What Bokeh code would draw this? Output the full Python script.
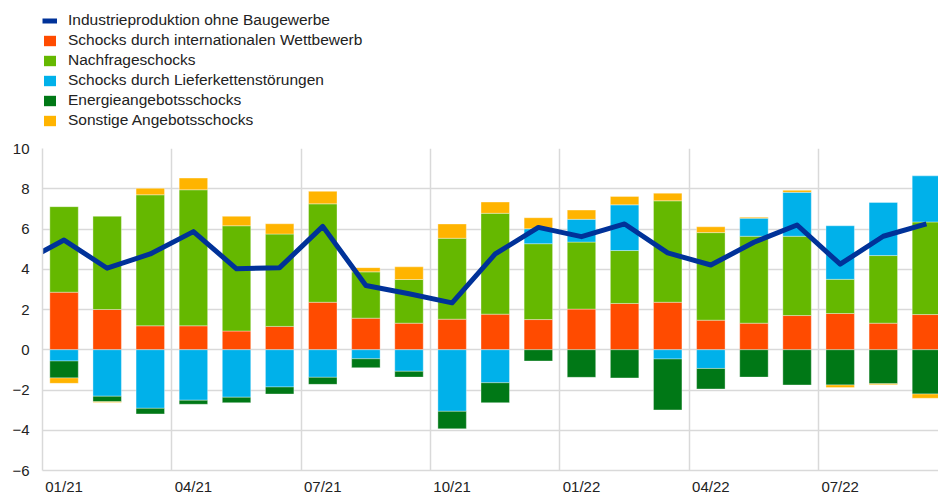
import numpy as np
from bokeh.plotting import figure
from bokeh.layouts import column
from bokeh.models import FixedTicker, Legend, LegendItem, ColumnDataSource
from bokeh.embed import file_html
from bokeh.resources import INLINE

# ---- data ----
months = list(range(21))  # 0 = 01/21 ... 20 = 09/22
line_x = list(range(-1, 21))  # includes 12/20
industry = [4.3, 5.45, 4.05, 4.76, 5.87, 4.02, 4.08, 6.13, 3.19, 2.78, 2.33, 4.76,
            6.08, 5.62, 6.25, 4.81, 4.21, 5.34, 6.2, 4.25, 5.64, 6.25]

international = [2.86, 2.0, 1.19, 1.19, 0.93, 1.16, 2.36, 1.57, 1.32, 1.52, 1.77,
                 1.5, 2.02, 2.3, 2.36, 1.47, 1.32, 1.7, 1.8, 1.32, 1.75]
demand = [4.25, 4.63, 6.51, 6.76, 5.23, 4.59, 4.89, 2.3, 2.17, 4.02, 5.01,
          3.77, 3.33, 2.63, 5.04, 4.35, 4.32, 3.94, 1.7, 3.36, 4.6]
supply_chain = [-0.56, -2.31, -2.91, -2.51, -2.36, -1.85, -1.37, -0.45, -1.07, -3.06, -1.64,
                0.74, 1.13, 2.27, -0.46, -0.93, 0.9, 2.18, 2.66, 2.64, 2.29]
energy = [-0.84, -0.27, -0.28, -0.2, -0.27, -0.35, -0.35, -0.44, -0.29, -0.87, -0.99,
          -0.56, -1.37, -1.4, -2.53, -1.02, -1.36, -1.75, -1.75, -1.69, -2.2]
other = [-0.27, -0.04, 0.32, 0.58, 0.47, 0.51, 0.62, 0.21, 0.63, 0.71, 0.56,
         0.55, 0.46, 0.42, 0.38, 0.29, 0.05, 0.1, -0.13, -0.05, -0.21]

tick_pos = [0, 3, 6, 9, 12, 15, 18]
tick_labels = ["01/21", "04/21", "07/21", "10/21", "01/22", "04/22", "07/22"]
quarter_bounds = [2.5, 5.5, 8.5, 11.5, 14.5, 17.5]
y_ticks = [-6, -4, -2, 0, 2, 4, 6, 8, 10]

series = [
    ("Schocks durch internationalen Wettbewerb", international, "#FF4B00"),
    ("Nachfrageschocks", demand, "#65B800"),
    ("Schocks durch Lieferkettenstörungen", supply_chain, "#00B1EA"),
    ("Energieangebotsschocks", energy, "#007816"),
    ("Sonstige Angebotsschocks", other, "#FFB400"),
]
line_name = "Industrieproduktion ohne Baugewerbe"
LINE_COLOR = "#003299"
FONT = "Liberation Sans"
TEXT_COLOR = "#222222"
GRID = "#d9d9d9"

# ---- main chart ----
p = figure(width=938, height=357, output_backend="svg", toolbar_location=None,
           x_range=(-0.5, 20.28), y_range=(-6, 10),
           min_border_left=41, min_border_right=0, min_border_top=8,
           min_border_bottom=27)
p.outline_line_color = None

pos_base = np.zeros(len(months))
neg_base = np.zeros(len(months))
for name, vals, col in series:
    v = np.array(vals, dtype=float)
    bottom = np.where(v >= 0, pos_base, neg_base)
    top = bottom + v
    pos_base = np.where(v >= 0, top, pos_base)
    neg_base = np.where(v < 0, top, neg_base)
    src = ColumnDataSource(dict(x=months, top=top, bottom=bottom))
    p.vbar(x="x", top="top", bottom="bottom", width=0.66, source=src,
           fill_color=col, line_color="white", line_alpha=0.35, line_width=1)

p.line(line_x, industry, line_color=LINE_COLOR, line_width=5, line_join="round")

p.xaxis.ticker = FixedTicker(ticks=tick_pos)
p.xaxis.major_label_overrides = {t: l for t, l in zip(tick_pos, tick_labels)}
p.yaxis.ticker = FixedTicker(ticks=y_ticks)
for ax in (p.xaxis, p.yaxis):
    ax.major_tick_line_color = None
    ax.minor_tick_line_color = None
    ax.major_tick_out = 0
    ax.major_tick_in = 0
    ax.minor_tick_out = 0
    ax.axis_line_color = GRID
    ax.axis_line_width = 1.5
    ax.major_label_text_font = FONT
    ax.major_label_text_font_size = "15px"
    ax.major_label_text_color = TEXT_COLOR
p.xaxis.major_label_standoff = 7
p.yaxis.major_label_standoff = 13

p.xgrid.ticker = FixedTicker(ticks=quarter_bounds)
p.xgrid.grid_line_color = GRID
p.xgrid.grid_line_width = 1.5
p.ygrid.grid_line_color = GRID
p.ygrid.grid_line_width = 1.5

# ---- legend panel ----
lg = figure(width=938, height=140, output_backend="svg", toolbar_location=None,
            x_range=(0, 1), y_range=(0, 1),
            min_border_left=42, min_border_right=0, min_border_top=11,
            min_border_bottom=0)
lg.axis.visible = False
lg.grid.visible = False
lg.outline_line_color = None

# legend-only renderers (their data lies outside the visible range)
items = [LegendItem(label=line_name,
                    renderers=[lg.line([5, 6], [5, 6], line_color=LINE_COLOR, line_width=5)])]
for name, vals, col in series:
    r = lg.vbar(x=[5], top=[6], bottom=[5], width=0.5, fill_color=col, line_color=None)
    items.append(LegendItem(label=name, renderers=[r]))

legend = Legend(items=items, location="top_left", orientation="vertical",
                glyph_width=15, glyph_height=13, label_height=18, spacing=2,
                padding=0, margin=0, label_standoff=11,
                label_text_font=FONT, label_text_font_size="15.5px",
                label_text_color=TEXT_COLOR,
                border_line_alpha=0, background_fill_alpha=0)
lg.add_layout(legend, "center")

layout = column(lg, p, spacing=0)
open("out.html", "w").write(file_html(layout, INLINE))
